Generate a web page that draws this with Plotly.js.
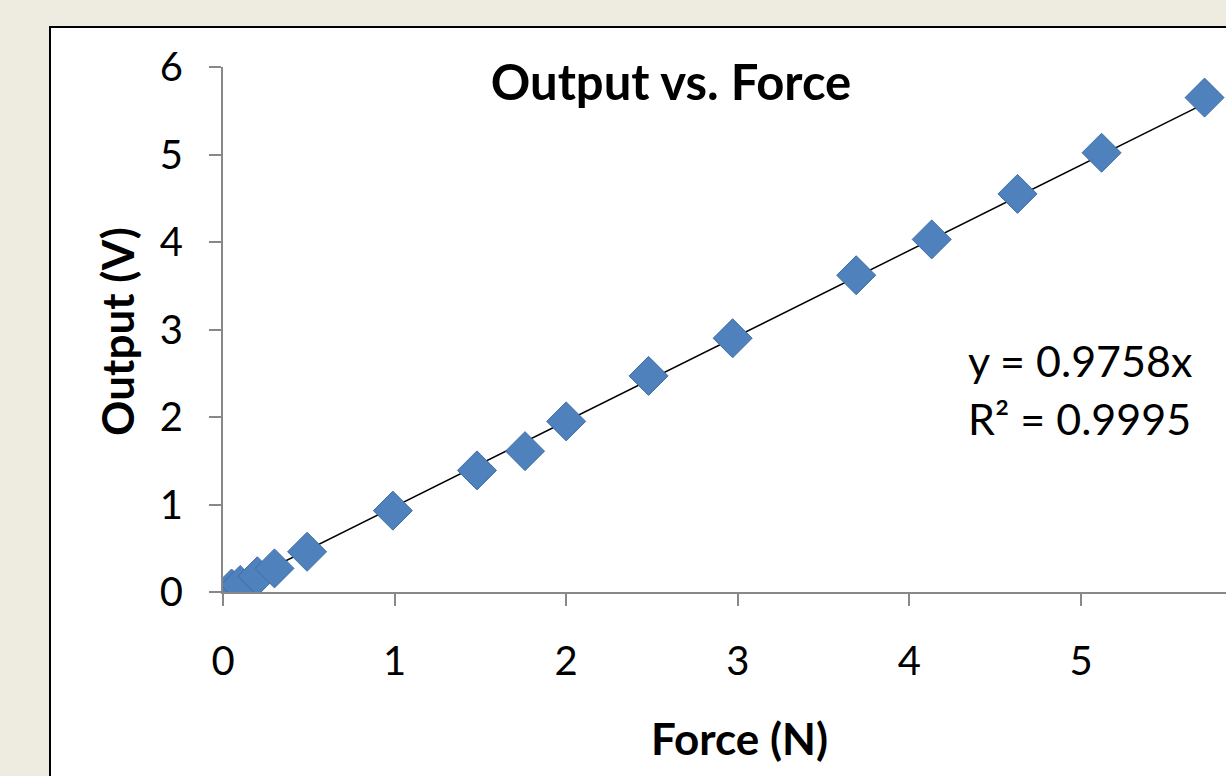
<!DOCTYPE html>
<html>
<head>
<meta charset="utf-8">
<script src="https://cdn.plot.ly/plotly-3.0.1.min.js"></script>
<style>html,body{margin:0;padding:0;background:#EEEBE0;}#chart{width:1226px;height:776px;}</style>
</head>
<body>
<div id="chart"></div>
<script>
const force = [0.05, 0.10, 0.20, 0.30, 0.49, 0.99, 1.48, 1.76, 2.00, 2.48, 2.97, 3.69, 4.13, 4.63, 5.12, 5.72];
const output = [0.04, 0.08, 0.18, 0.27, 0.46, 0.93, 1.39, 1.61, 1.95, 2.47, 2.90, 3.62, 4.03, 4.55, 5.02, 5.65];
const slope = 0.9758;
const r2 = 0.9995;
const trendX = [force[0], force[force.length - 1]];
const trendY = trendX.map(v => slope * v);
const xTicks = [0, 1, 2, 3, 4, 5];
const yTicks = [0, 1, 2, 3, 4, 5, 6];

const FONT = 'Lato, "Open Sans", sans-serif';
const data = [
  {x: trendX, y: trendY, type: 'scatter', mode: 'lines',
   line: {color: '#000000', width: 1.5}, hoverinfo: 'skip', showlegend: false},
  {x: force, y: output, type: 'scatter', mode: 'markers',
   marker: {symbol: 'diamond', size: 30, color: '#4F81BD', line: {color: '#3D6DA8', width: 1}},
   showlegend: false}
];
const axisCommon = {
  showgrid: false, zeroline: false, showline: true, linecolor: '#888888', linewidth: 2,
  ticks: 'outside', ticklen: 12, tickwidth: 2, tickcolor: '#888888',
  tickfont: {family: FONT, size: 40, color: '#000000'}
};
const layout = {
  width: 1226, height: 776,
  paper_bgcolor: '#EEEBE0', plot_bgcolor: 'rgba(0,0,0,0)',
  margin: {l: 223, r: 0, t: 67, b: 184},
  title: {text: '<b>Output vs. Force</b>', x: 671/1226, xref: 'container', xanchor: 'center',
          y: 1 - 83/776, yref: 'container', yanchor: 'middle',
          font: {family: FONT, size: 49, color: '#000000'}},
  xaxis: Object.assign({}, axisCommon, {
    range: [0, (1226 - 223) / 171.6], tickvals: xTicks, ticktext: xTicks.map(String),
    ticklabelstandoff: 21
  }),
  yaxis: Object.assign({}, axisCommon, {
    range: [0, 6], tickvals: yTicks, ticktext: yTicks.map(String),
    ticklabelstandoff: 18
  }),
  shapes: [
    {type: 'rect', xref: 'paper', yref: 'paper', x0: (50 - 223) / 1003, x1: 1.05,
     y0: -0.5, y1: (592 - 27) / 525, fillcolor: '#FFFFFF', line: {color: '#000000', width: 2}, layer: 'below'}
  ],
  annotations: [
    {text: '<b>Force (N)</b>', xref: 'paper', yref: 'paper', x: (739 - 223) / 1003, xanchor: 'center',
     y: (592 - 738) / 525, yanchor: 'middle', showarrow: false,
     font: {family: FONT, size: 44, color: '#000000'}},
    {text: '<b>Output (V)</b>', xref: 'paper', yref: 'paper', x: (117 - 223) / 1003, xanchor: 'center',
     y: (592 - 332) / 525, yanchor: 'middle', showarrow: false, textangle: -90,
     font: {family: FONT, size: 44, color: '#000000'}},
    {text: 'y = ' + slope.toFixed(4) + 'x', xref: 'paper', yref: 'y', x: (966 - 223) / 1003, xanchor: 'left',
     y: (592 - 360) / 87.5, yanchor: 'middle', showarrow: false,
     font: {family: FONT, size: 43, color: '#000000'}},
    {text: 'R² = ' + r2.toFixed(4), xref: 'paper', yref: 'y', x: (966 - 223) / 1003, xanchor: 'left',
     y: (592 - 418) / 87.5, yanchor: 'middle', showarrow: false,
     font: {family: FONT, size: 43, color: '#000000'}}
  ]
};
Plotly.newPlot('chart', data, layout, {displayModeBar: false, staticPlot: true});
</script>
</body>
</html>
